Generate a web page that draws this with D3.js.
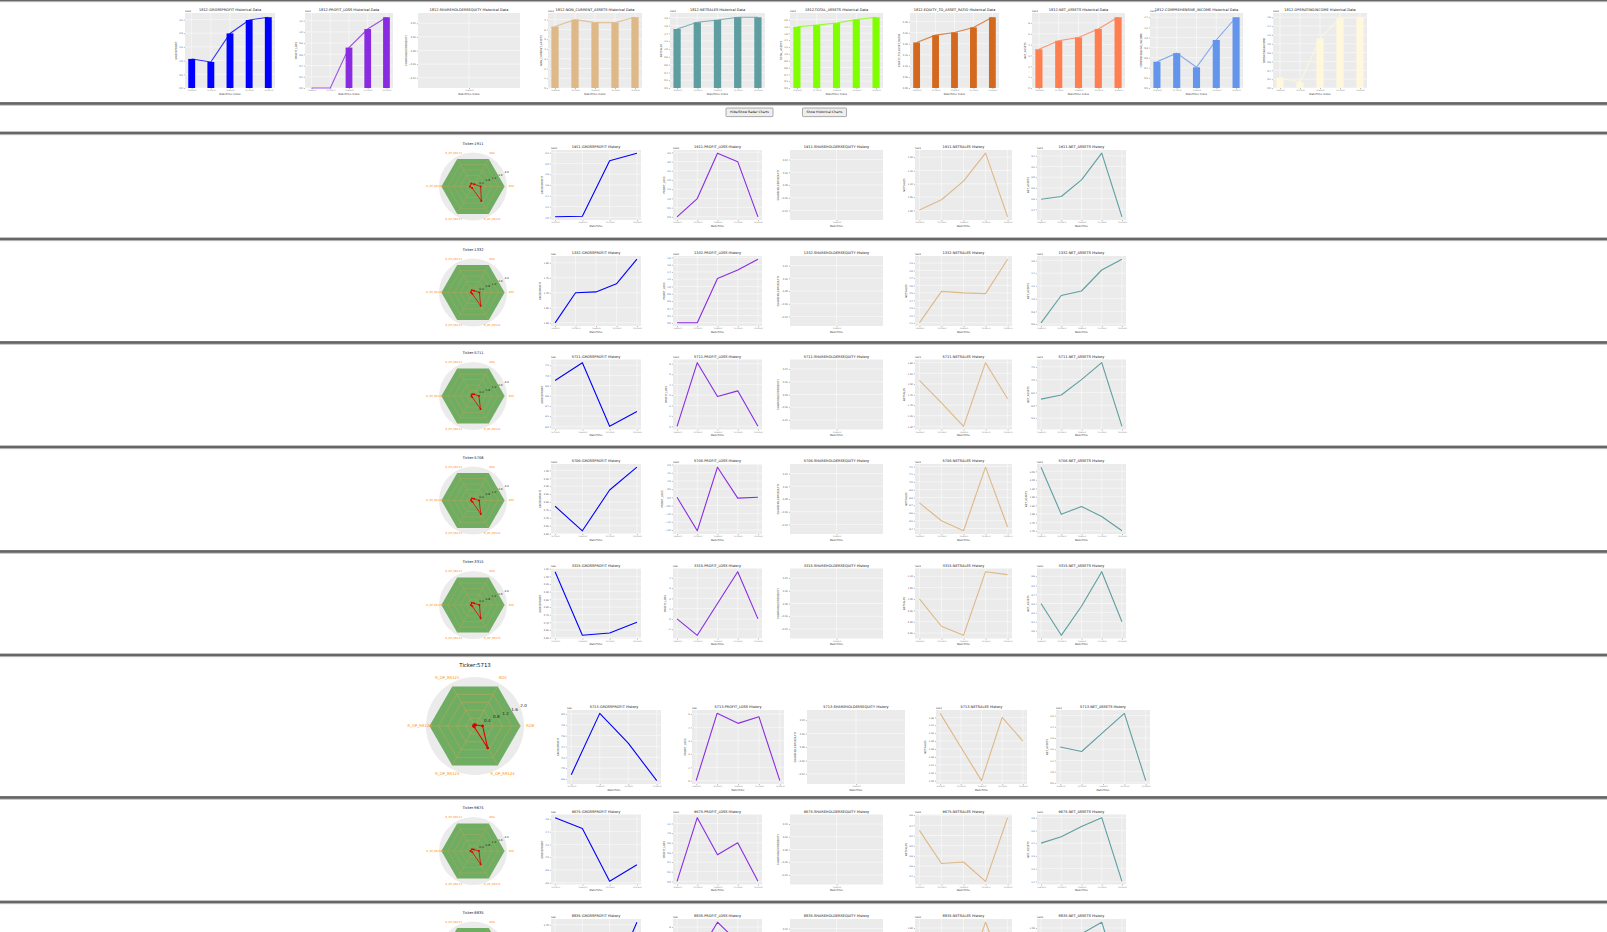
<!DOCTYPE html>
<html><head><meta charset="utf-8">
<script src="https://cdn.jsdelivr.net/npm/d3@7"></script>
<style>body{margin:0;background:#fff;} svg{display:block;font-family:"DejaVu Sans",sans-serif;}</style>
</head><body><svg id="c" width="1607" height="932"></svg>
<script>
// ---------------- DATA ----------------
const topTicker = "1812";
const topMetrics = ["GROSSPROFIT","PROFIT_LOSS","SHAREHOLDERSEQUITY","NON_CURRENT_ASSETS","NETSALES","TOTAL_ASSETS","EQUITY_TO_ASSET_RATIO","NET_ASSETS","COMPREHENSIVE_INCOME","OPERATINGINCOME"];
const topColors = ["#0000ff","#8a2be2","#a52a2a","#deb887","#5f9ea0","#7fff00","#d2691e","#ff7f50","#6495ed","#fff8dc"];
const topExponents = ["1e10","1e11","","1e11","1e12","1e12","","1e11","1e11","1e10"];
const topDates = ["2016-03-31","2017-03-31","2018-03-31","2019-03-31","2020-03-31"];
const topGrossProfit = [1.06,0.95,1.99,2.48,2.58];
const topProfitLoss = [0.0,0.0,0.72,1.05,1.26];
const topShareholdersEquity = [];
const topNonCurrentAssets = [6.3,7.0,6.7,6.7,7.25];
const topNetSales = [1.51,1.68,1.74,1.81,1.81];
const topTotalAssets = [1.79,1.84,1.90,2.00,2.07];
const topEquityRatio = [0.206,0.239,0.251,0.274,0.32];
const topNetAssets = [3.57,4.35,4.66,5.44,6.52];
const topComprehensiveIncome = [0.52,0.69,0.41,0.95,1.40];
const topOperatingIncome = [0.23,0.13,1.12,1.58,1.60];

const buttonLabels = ["Hide/Show Radar Charts","Show Historical Charts"];

const rowTickers = ["1911","1332","5711","5706","3315","5713","9675","8835"];
const rowMetrics = ["GROSSPROFIT","PROFIT_LOSS","SHAREHOLDERSEQUITY","NETSALES","NET_ASSETS"];
const rowColors = ["#0000ff","#8a2be2","#a52a2a","#deb887","#5f9ea0"];
const rowDates5 = ["2016-03-31","2017-03-31","2018-03-31","2019-03-31","2020-03-31"];
const rowDates4 = ["2017-03-31","2018-03-31","2019-03-31","2020-03-31"];
const grossProfit = [
  [1.01,1.02,2.05,2.19],
  [1.600,1.700,1.703,1.730,1.812],
  [6.9,7.25,6.0,6.29],
  [0.773,0.618,0.876,1.02],
  [1.03,0.615,0.63,0.70],
  [6.88,8.01,7.46,6.77],
  [4.62,4.45,3.62,3.88],
  [2.52,2.50,2.45,2.71]
];
const profitLoss = [
  [0.0,0.99,3.45,2.99,0.0],
  [0.0,0.0,1.22,1.45,1.75],
  [0.0,6.1,2.85,3.4,0.0],
  [0.0,-2.05,1.84,-0.05,0.0],
  [0.0,-1.6,1.5,4.6,0.0],
  [0.0,5.05,4.3,4.8,0.0],
  [0.0,1.32,0.55,0.8,0.0],
  [0.0,3.0,6.5,4.5,0.0]
];
const shareholdersEquity = [[],[],[],[],[],[],[],[]];
const netSales = [
  [1.002,1.04,1.11,1.215,0.976],
  [4.1,4.52,4.5,4.49,4.95],
  [1.517,1.41,1.30,1.60,1.43],
  [6.73,6.5,6.37,7.19,6.42],
  [1.0,0.88,0.84,1.12,1.107],
  [1.37,1.285,1.20,1.36,1.30],
  [3.3,2.65,2.68,2.3,3.55],
  [1.50,1.45,1.40,1.62,1.42]
];
const netAssets = [
  [2.59,2.64,2.95,3.45,2.26],
  [0.62,1.05,1.12,1.45,1.62],
  [6.24,6.4,7.0,7.66,5.18],
  [2.074,1.797,1.843,1.784,1.70],
  [3.3,2.95,3.27,3.65,3.1],
  [1.22,1.18,1.35,1.52,0.92],
  [1.40,1.45,1.53,1.60,1.10],
  [1.45,1.40,1.48,1.52,1.30]
];
const rowExponents = [
  ["1e10","1e10","","1e11","1e11"],
  ["1e9","1e10","","1e11","1e11"],
  ["1e9","1e10","","1e11","1e11"],
  ["1e10","1e10","","1e11","1e11"],
  ["1e9","1e9","","1e11","1e10"],
  ["1e9","1e9","","1e11","1e11"],
  ["1e9","1e10","","1e10","1e10"],
  ["1e9","1e9","","1e10","1e10"]
];
const radarAxes = ["ROE","ROS","R_OP_RR121","R_OP_RR122","R_OP_RR123","R_OP_RR124"];
const radarTicks = [0.4,0.8,1.2,1.6,2.0];
const radarValues = [
  [0.45,0.15,0.20,0.18,0.10,0.98],
  [0.38,0.12,0.15,0.12,0.08,0.90],
  [0.35,0.12,0.12,0.10,0.08,0.88],
  [0.36,0.12,0.14,0.12,0.08,0.92],
  [0.38,0.12,0.15,0.12,0.08,0.90],
  [0.31,0.05,0.06,0.07,0.05,1.04],
  [0.35,0.10,0.12,0.15,0.08,0.90],
  [0.35,0.10,0.12,0.15,0.08,0.90]
];

// ---------------- LAYOUT ----------------
const W = 1607, H = 932;
const svg = d3.select("#c");
const topBoxesX = [[185,275],[305,393],[418,520],[548,642],[670,765],[790,883],[910,999],[1032,1125],[1150,1243],[1273,1367]];
const topBoxY = [13,88];
const separators = [0,103.5,133,239,342.5,447,551.5,655,797.5,902];
const rowSeps = [133,239,342.5,447,551.5,655,797.5,902];
const normalBoxesX = [[551,641],[673,762],[790,883],[915,1012],[1037,1126]];
const bigBoxesX = [[567,661],[692,784],[807,905],[936,1027],[1056,1150]];

function separator(y){
  svg.append("rect").attr("x",0).attr("y",y-1.4).attr("width",W).attr("height",2.8).attr("fill","#666");
  svg.append("rect").attr("x",0).attr("y",y+1.4).attr("width",W).attr("height",0.7).attr("fill","#aaa");
}

function textW(s, fs){ return s.length*fs*0.6; }

function panel(box, cfg){
  const [x0,x1,y0,y1] = box;
  const g = svg.append("g");
  g.append("rect").attr("x",x0).attr("y",y0).attr("width",x1-x0).attr("height",y1-y0).attr("fill","#ebebeb");
  const n = cfg.values.length;
  let xs, ys, yTicks, fmt, xTicks, xLabels;
  if(n===0){
    xs = d3.scaleLinear().domain([-0.055,0.055]).range([x0,x1]);
    ys = d3.scaleLinear().domain([-0.055,0.055]).range([y1,y0]);
    yTicks = [-0.04,-0.02,0,0.02,0.04];
    fmt = d3.format(".2f");
    xTicks = [0]; xLabels = [cfg.dates[Math.floor(cfg.dates.length/2)]];
  } else if(cfg.kind==="bar"){
    xs = d3.scaleLinear().domain([-0.35,n-1+0.35]).range([x0,x1]);
    ys = d3.scaleLinear().domain([0,d3.max(cfg.values)*1.06]).range([y1,y0]);
    yTicks = ys.ticks(7); fmt = ys.tickFormat(7);
    xTicks = d3.range(n); xLabels = cfg.dates;
  } else {
    const pad = 0.05*(n-1);
    xs = d3.scaleLinear().domain([-pad,n-1+pad]).range([x0,x1]);
    const [mn,mx] = d3.extent(cfg.values); const p=(mx-mn)*0.05;
    ys = d3.scaleLinear().domain([mn-p,mx+p]).range([y1,y0]);
    yTicks = ys.ticks(7); fmt = ys.tickFormat(7);
    xTicks = d3.range(n); xLabels = cfg.dates;
  }
  // grid
  g.selectAll(null).data(yTicks).join("line")
    .attr("x1",x0).attr("x2",x1).attr("y1",d=>ys(d)).attr("y2",d=>ys(d))
    .attr("stroke","#fff").attr("stroke-width",0.5);
  g.selectAll(null).data(xTicks).join("line")
    .attr("y1",y0).attr("y2",y1).attr("x1",d=>xs(d)).attr("x2",d=>xs(d))
    .attr("stroke","#fff").attr("stroke-width",0.5);
  // axes via d3
  const fsT = 2.3;
  const ya = d3.axisLeft(ys).tickValues(yTicks).tickFormat(fmt).tickSize(1.2).tickPadding(1);
  const yg = g.append("g").attr("transform",`translate(${x0},0)`).call(ya);
  const xa = d3.axisBottom(xs).tickValues(xTicks).tickFormat((d,i)=>xLabels[i]).tickSize(1.2).tickPadding(0.8);
  const xg = g.append("g").attr("transform",`translate(0,${y1})`).call(xa);
  [yg,xg].forEach(a=>{
    a.select(".domain").remove();
    a.selectAll(".tick line").attr("stroke","#555").attr("stroke-width",0.4);
    a.selectAll(".tick text").attr("fill","#555").attr("font-family","DejaVu Sans").attr("font-size",fsT);
  });
  xg.selectAll(".tick text").attr("font-size",1.6);
  // marks
  if(n>0){
    if(cfg.kind==="bar"){
      const bw = xs(0.36)-xs(0);
      g.selectAll(null).data(cfg.values).join("rect")
        .attr("x",(d,i)=>xs(i)-bw/2).attr("width",bw)
        .attr("y",d=>ys(d)).attr("height",d=>ys(0)-ys(d))
        .attr("fill",cfg.color);
      g.append("path").datum(cfg.values)
        .attr("d",d3.line().x((d,i)=>xs(i)).y(d=>ys(d)))
        .attr("fill","none").attr("stroke",cfg.color).attr("stroke-width",1.1).attr("stroke-opacity",0.8);
    } else {
      g.append("path").datum(cfg.values)
        .attr("d",d3.line().x((d,i)=>xs(i)).y(d=>ys(d)))
        .attr("fill","none").attr("stroke",cfg.color).attr("stroke-width",1.1).attr("stroke-linejoin","round");
    }
  }
  // texts
  g.append("text").attr("x",(x0+x1)/2).attr("y",y0-1.6).attr("text-anchor","middle")
    .attr("font-size",3.5).attr("fill","#111").text(cfg.title);
  if(cfg.exp) g.append("text").attr("x",x0).attr("y",y0-1.3).attr("font-size",2.4).attr("fill","#333").text(cfg.exp);
  const maxLab = d3.max(yTicks.map(t=>textW(fmt(t),fsT)));
  const yl = x0 - maxLab - 4.2;
  g.append("text").attr("transform",`translate(${yl},${(y0+y1)/2}) rotate(-90)`)
    .attr("text-anchor","middle").attr("font-size",2.6).attr("fill","#333").text(cfg.ylabel);
  g.append("text").attr("x",(x0+x1)/2).attr("y",y1+6.8).attr("text-anchor","middle")
    .attr("font-size",2.7).attr("fill","#333").text(cfg.xlabel);
}

function radar(cx, cy, R, vals, ticker, titleY, big){
  const g = svg.append("g");
  g.append("text").attr("x",cx).attr("y",titleY).attr("text-anchor","middle")
    .attr("font-size",big?5.4:3.6).attr("fill","#111").text("Ticker:"+ticker);
  g.append("circle").attr("cx",cx).attr("cy",cy).attr("r",R).attr("fill","#ebebeb");
  const r = d3.scaleLinear().domain([0,2.0]).range([0,R]);
  const k = radarAxes.length;
  const pt = (i,v)=>[cx + r(v)*Math.cos(i*2*Math.PI/k), cy - r(v)*Math.sin(i*2*Math.PI/k)];
  const hexMax = 1.86;
  const lineGen = d3.line().curve(d3.curveLinearClosed);
  g.append("path").attr("d",lineGen(d3.range(k).map(i=>pt(i,hexMax)))).attr("fill","#6fae62");
  radarTicks.filter(t=>t<hexMax).forEach(t=>{
    g.append("path").attr("d",lineGen(d3.range(k).map(i=>pt(i,t*hexMax/2.0))))
      .attr("fill","none").attr("stroke","#e0a050").attr("stroke-width",big?0.5:0.35).attr("stroke-opacity",0.8);
  });
  d3.range(k).forEach(i=>{
    const [x,y]=pt(i,hexMax);
    g.append("line").attr("x1",cx).attr("y1",cy).attr("x2",x).attr("y2",y)
      .attr("stroke","#e0a050").attr("stroke-width",big?0.5:0.35).attr("stroke-opacity",0.8);
  });
  // radial tick labels at 22.5 deg
  const a = 22.5*Math.PI/180;
  radarTicks.forEach(t=>{
    g.append("text").attr("x",cx+r(t)*Math.cos(a)).attr("y",cy-r(t)*Math.sin(a))
      .attr("font-size",big?4.2:2.8).attr("fill","#222").text(t.toFixed(1));
  });
  // axis labels
  radarAxes.forEach((lab,i)=>{
    const [x,y]=pt(i,2.0*1.13);
    g.append("text").attr("x",x).attr("y",y).attr("text-anchor","middle").attr("dominant-baseline","middle")
      .attr("font-size",big?3.8:2.6).attr("fill","#ff8c00").text(lab);
  });
  // data
  const pts = vals.map((v,i)=>pt(i,v));
  g.append("path").attr("d",lineGen(pts)).attr("fill","none").attr("stroke","#d00").attr("stroke-width",big?1.1:0.8);
  g.selectAll(null).data(pts).join("circle").attr("cx",d=>d[0]).attr("cy",d=>d[1]).attr("r",big?1.4:1).attr("fill","#d00");
}

// ---------------- DRAW ----------------
separators.forEach(separator);

const topSeries = [topGrossProfit,topProfitLoss,topShareholdersEquity,topNonCurrentAssets,topNetSales,topTotalAssets,topEquityRatio,topNetAssets,topComprehensiveIncome,topOperatingIncome];
topMetrics.forEach((m,i)=>{
  panel([topBoxesX[i][0],topBoxesX[i][1],topBoxY[0],topBoxY[1]],{
    kind:"bar", values:topSeries[i], dates:topDates, color:topColors[i],
    title:`${topTicker}-${m} Historical Data`, ylabel:m, xlabel:"DateTime Index", exp:topExponents[i]
  });
});

// buttons
const btnBoxes = [[726,108,47,8.6],[802.5,108,44,8.6]];
buttonLabels.forEach((b,i)=>{
  const [x,y,w,h]=btnBoxes[i];
  svg.append("rect").attr("x",x).attr("y",y).attr("width",w).attr("height",h).attr("rx",0.8)
    .attr("fill","#efefef").attr("stroke","#767676").attr("stroke-width",0.6);
  svg.append("text").attr("x",x+w/2).attr("y",y+h/2+1.1).attr("text-anchor","middle")
    .attr("font-size",3.2).attr("fill","#000").text(b);
});

rowTickers.forEach((t,ri)=>{
  const sep = rowSeps[ri];
  const big = t==="5713";
  const boxesX = big?bigBoxesX:normalBoxesX;
  const yT = big?sep+55:sep+17, yB = big?sep+129:sep+87;
  radar(big?475:473, big?sep+71:sep+53.5, big?49:34, radarValues[ri], t, sep+(big?12:11.5), big);
  const series = [grossProfit[ri],profitLoss[ri],shareholdersEquity[ri],netSales[ri],netAssets[ri]];
  rowMetrics.forEach((m,mi)=>{
    const vals = series[mi];
    panel([boxesX[mi][0],boxesX[mi][1],yT,yB],{
      kind:"line", values:vals, dates: vals.length===4?rowDates4:rowDates5, color:rowColors[mi],
      title:`${t}-${m} History`, ylabel:m, xlabel:"DateTime", exp:rowExponents[ri][mi]
    });
  });
});
</script></body></html>
